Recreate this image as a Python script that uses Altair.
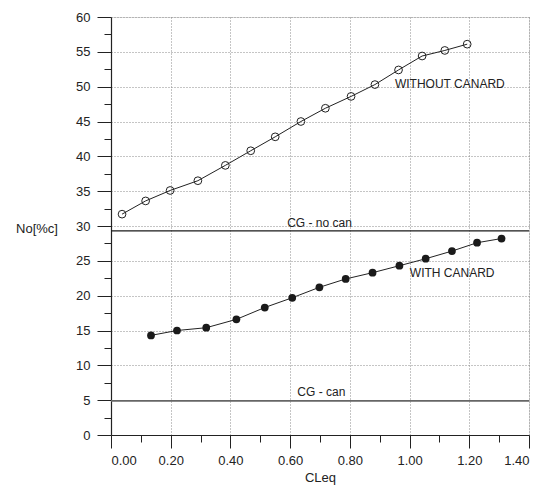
import altair as alt
import pandas as pd

# WITHOUT CANARD (open circles)
x_without = [0.037, 0.116, 0.198, 0.291, 0.383, 0.468, 0.550, 0.636, 0.718, 0.804, 0.884, 0.963, 1.042, 1.118, 1.193]
y_without = [31.7, 33.6, 35.1, 36.5, 38.7, 40.8, 42.8, 45.0, 46.9, 48.6, 50.3, 52.4, 54.4, 55.2, 56.1]

# WITH CANARD (filled circles)
x_with = [0.134, 0.221, 0.319, 0.420, 0.515, 0.607, 0.698, 0.786, 0.876, 0.966, 1.054, 1.142, 1.226, 1.308]
y_with = [14.3, 15.0, 15.4, 16.6, 18.3, 19.7, 21.2, 22.4, 23.3, 24.3, 25.3, 26.4, 27.6, 28.2]

# CG reference lines
cg_names = ["CG - no can", "CG - can"]
cg_values = [29.3, 4.9]
cg_colors = ["#1a1a1a", "#666666"]
cg_widths = [1.2, 1.6]

# Annotations
ann_text = ["WITHOUT CANARD", "WITH CANARD", "CG - no can", "CG - can"]
ann_x = [0.951, 1.001, 0.590, 0.624]
ann_y = [50.4, 23.2, 30.5, 6.2]

# Axis tick values (major + minor)
y_ticks = [0, 2.5, 5, 7.5, 10, 12.5, 15, 17.5, 20, 22.5, 25, 27.5, 30, 32.5, 35, 37.5,
           40, 42.5, 45, 47.5, 50, 52.5, 55, 57.5, 60]
x_ticks = [0.0, 0.1, 0.2, 0.3, 0.4, 0.5, 0.6, 0.7, 0.8, 0.9, 1.0, 1.1, 1.2, 1.3, 1.4]

FONT = "Liberation Sans"
TXT = "#222222"

df_without = pd.DataFrame({"x": x_without, "y": y_without})
df_with = pd.DataFrame({"x": x_with, "y": y_with})
df_cg = pd.DataFrame({"name": cg_names, "y": cg_values, "c": cg_colors, "w": cg_widths})
df_ann = pd.DataFrame({"t": ann_text, "x": ann_x, "y": ann_y})

ymaj = "datum.value % 5 == 0"
xmaj = "round(datum.value * 10) % 2 == 0"

xscale = alt.Scale(domain=[0, 1.4], nice=False, zero=False)
yscale = alt.Scale(domain=[0, 60], nice=False, zero=False)

xaxis = alt.Axis(
    values=x_ticks,
    labelExpr=f"{xmaj} ? format(datum.value, '.2f') : ''",
    labelOverlap=False,
    tickSize={"condition": {"test": xmaj, "value": 13}, "value": 7},
    tickColor="#222222",
    domainColor="#222222",
    domainWidth=1.2,
    labelPadding=6,
    labelFont=FONT, labelFontSize=13, labelColor=TXT,
    grid=True,
    gridDash=[1, 2], gridColor="#8a8a8a", gridWidth=1,
    gridOpacity={"condition": {"test": f"{xmaj} && datum.value > 0", "value": 1}, "value": 0},
    title="CLeq", titleFont=FONT, titleFontSize=13, titleFontWeight="normal", titleColor=TXT,
    titleX=209, titleY=46, titleBaseline="alphabetic", titleAlign="center",
)
yaxis = alt.Axis(
    values=y_ticks,
    labelExpr=f"{ymaj} ? datum.label : ''",
    labelOverlap=False,
    tickSize={"condition": {"test": ymaj, "value": 14}, "value": 7},
    tickColor="#222222",
    domainColor="#222222",
    domainWidth=1.2,
    labelPadding=7,
    labelFont=FONT, labelFontSize=13, labelColor=TXT,
    grid=True,
    gridDash=[1, 2], gridColor="#8a8a8a", gridWidth=1,
    gridOpacity={"condition": {"test": f"{ymaj} && datum.value > 0", "value": 1}, "value": 0},
    title="No[%c]", titleFont=FONT, titleFontSize=13, titleFontWeight="normal", titleColor=TXT,
    titleAngle=0, titleX=-74.5, titleY=215, titleAlign="center", titleBaseline="alphabetic",
)

X = alt.X("x:Q", scale=xscale, axis=xaxis)
Y = alt.Y("y:Q", scale=yscale, axis=yaxis)

line_without = alt.Chart(df_without).mark_line(color="#222222", strokeWidth=1).encode(x=X, y=Y)
pts_without = alt.Chart(df_without).mark_point(filled=False, color="#222222", size=60, strokeWidth=1, opacity=1).encode(x=X, y=Y)

line_with = alt.Chart(df_with).mark_line(color="#222222", strokeWidth=1).encode(x=X, y=Y)
pts_with = alt.Chart(df_with).mark_point(filled=True, color="#1a1a1a", size=60, opacity=1).encode(x=X, y=Y)

cg_rules = alt.Chart(df_cg).mark_rule().encode(
    y=Y,
    color=alt.Color("c:N", scale=None),
    strokeWidth=alt.StrokeWidth("w:Q", scale=None),
)

ann = alt.Chart(df_ann).mark_text(align="left", baseline="middle", font=FONT, fontSize=12, color=TXT).encode(
    x=X, y=Y, text="t:N")

chart = alt.layer(line_without, cg_rules, pts_without, line_with, pts_with, ann).properties(
    width=418, height=418,
    autosize=alt.AutoSizeParams(type="none"),
    padding={"left": 103, "top": 9, "right": 12, "bottom": 51},
).configure_view(stroke=None).configure(background="white")

chart.save("out.html", embed_options={"renderer": "svg", "actions": False})
